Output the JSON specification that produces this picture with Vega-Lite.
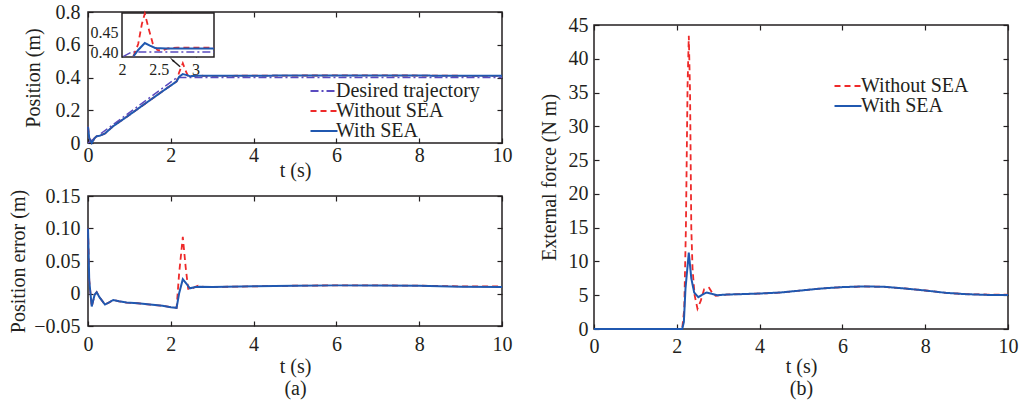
{
 "$schema": "https://vega.github.io/schema/vega-lite/v6.json",
 "background": "white",
 "padding": {"left": 7, "top": 1, "right": 5, "bottom": 3},
 "config": {
  "font": "Liberation Serif",
  "view": {"stroke": "#231f20", "strokeWidth": 1.5},
  "axis": {"labelFont": "Liberation Serif", "titleFont": "Liberation Serif", "labelFontSize": 20, "titleFontSize": 20, "titleFontWeight": "normal", "labelColor": "#231f20", "titleColor": "#231f20", "tickColor": "#231f20", "tickSize": -5, "tickWidth": 1.2, "domain": false, "grid": false, "labelFlush": false, "labelOverlap": false, "titleLineHeight": 22},
  "axisX": {"labelPadding": 12, "titlePadding": 2},
  "axisY": {"labelPadding": 13, "titlePadding": 9},
  "legend": {"labelFont": "Liberation Serif", "labelFontSize": 20, "labelColor": "#231f20", "symbolType": "M-2,0H2", "symbolSize": 182, "symbolStrokeWidth": 2, "rowPadding": 0, "padding": 0}
 },
 "datasets": {
  "pos": [
   {"t": 0, "v": 0, "s": "Desired trajectory"}, {"t": 2.15, "v": 0.4, "s": "Desired trajectory"}, {"t": 10, "v": 0.4, "s": "Desired trajectory"},
   {"t": 0, "v": 0.1, "s": "With SEA"}, {"t": 0.03, "v": 0.03, "s": "With SEA"}, {"t": 0.09, "v": 0.0, "s": "With SEA"}, {"t": 0.16, "v": 0.03, "s": "With SEA"}, {"t": 0.21, "v": 0.041, "s": "With SEA"}, {"t": 0.28, "v": 0.044, "s": "With SEA"}, {"t": 0.41, "v": 0.058, "s": "With SEA"}, {"t": 0.61, "v": 0.103, "s": "With SEA"}, {"t": 0.93, "v": 0.159, "s": "With SEA"}, {"t": 1.2, "v": 0.208, "s": "With SEA"}, {"t": 1.5, "v": 0.262, "s": "With SEA"}, {"t": 1.8, "v": 0.316, "s": "With SEA"}, {"t": 2.0, "v": 0.351, "s": "With SEA"}, {"t": 2.14, "v": 0.376, "s": "With SEA"}, {"t": 2.2, "v": 0.404, "s": "With SEA"}, {"t": 2.29, "v": 0.421, "s": "With SEA"}, {"t": 2.38, "v": 0.415, "s": "With SEA"}, {"t": 2.46, "v": 0.408, "s": "With SEA"}, {"t": 2.6, "v": 0.41, "s": "With SEA"}, {"t": 2.7, "v": 0.4105, "s": "With SEA"}, {"t": 3, "v": 0.41, "s": "With SEA"}, {"t": 4, "v": 0.411, "s": "With SEA"}, {"t": 5, "v": 0.412, "s": "With SEA"}, {"t": 6, "v": 0.4125, "s": "With SEA"}, {"t": 7, "v": 0.4125, "s": "With SEA"}, {"t": 8, "v": 0.412, "s": "With SEA"}, {"t": 9, "v": 0.41, "s": "With SEA"}, {"t": 10, "v": 0.41, "s": "With SEA"},
   {"t": 0, "v": 0.1, "s": "Without SEA"}, {"t": 0.03, "v": 0.03, "s": "Without SEA"}, {"t": 0.09, "v": 0.0, "s": "Without SEA"}, {"t": 0.16, "v": 0.03, "s": "Without SEA"}, {"t": 0.21, "v": 0.041, "s": "Without SEA"}, {"t": 0.28, "v": 0.044, "s": "Without SEA"}, {"t": 0.41, "v": 0.058, "s": "Without SEA"}, {"t": 0.61, "v": 0.103, "s": "Without SEA"}, {"t": 0.93, "v": 0.159, "s": "Without SEA"}, {"t": 1.2, "v": 0.208, "s": "Without SEA"}, {"t": 1.5, "v": 0.262, "s": "Without SEA"}, {"t": 1.8, "v": 0.316, "s": "Without SEA"}, {"t": 2.0, "v": 0.351, "s": "Without SEA"}, {"t": 2.14, "v": 0.376, "s": "Without SEA"}, {"t": 2.2, "v": 0.43, "s": "Without SEA"}, {"t": 2.29, "v": 0.487, "s": "Without SEA"}, {"t": 2.36, "v": 0.44, "s": "Without SEA"}, {"t": 2.42, "v": 0.407, "s": "Without SEA"}, {"t": 2.5, "v": 0.407, "s": "Without SEA"}, {"t": 2.58, "v": 0.41, "s": "Without SEA"}, {"t": 2.66, "v": 0.412, "s": "Without SEA"}, {"t": 2.8, "v": 0.41, "s": "Without SEA"}, {"t": 3, "v": 0.41, "s": "Without SEA"}, {"t": 4, "v": 0.411, "s": "Without SEA"}, {"t": 5, "v": 0.412, "s": "Without SEA"}, {"t": 6, "v": 0.4125, "s": "Without SEA"}, {"t": 7, "v": 0.4125, "s": "Without SEA"}, {"t": 8, "v": 0.412, "s": "Without SEA"}, {"t": 9, "v": 0.4105, "s": "Without SEA"}, {"t": 10, "v": 0.4105, "s": "Without SEA"}
  ],
  "inset": [
   {"t": 2.02, "v": 0.389, "s": "Desired trajectory"}, {"t": 2.13, "v": 0.4, "s": "Desired trajectory"}, {"t": 3.25, "v": 0.4, "s": "Desired trajectory"},
   {"t": 2.155, "v": 0.389, "s": "Without SEA"}, {"t": 2.22, "v": 0.42, "s": "Without SEA"}, {"t": 2.27, "v": 0.47, "s": "Without SEA"}, {"t": 2.31, "v": 0.496, "s": "Without SEA"}, {"t": 2.36, "v": 0.46, "s": "Without SEA"}, {"t": 2.42, "v": 0.42, "s": "Without SEA"}, {"t": 2.48, "v": 0.405, "s": "Without SEA"}, {"t": 2.54, "v": 0.403, "s": "Without SEA"}, {"t": 2.62, "v": 0.409, "s": "Without SEA"}, {"t": 2.75, "v": 0.411, "s": "Without SEA"}, {"t": 3.25, "v": 0.411, "s": "Without SEA"},
   {"t": 2.155, "v": 0.389, "s": "With SEA"}, {"t": 2.22, "v": 0.405, "s": "With SEA"}, {"t": 2.31, "v": 0.4225, "s": "With SEA"}, {"t": 2.38, "v": 0.416, "s": "With SEA"}, {"t": 2.45, "v": 0.41, "s": "With SEA"}, {"t": 2.6, "v": 0.409, "s": "With SEA"}, {"t": 3.25, "v": 0.409, "s": "With SEA"}
  ],
  "insetbox": [{"x0": 2, "x1": 3.25, "y0": 0.3875, "y1": 0.4975}],
  "pointer": [{"t": 2.79, "v": 0.363, "t2": 2.685, "v2": 0.38}],
  "err": [
   {"t": 0, "v": 0.1, "s": "With SEA"}, {"t": 0.03, "v": 0.02, "s": "With SEA"}, {"t": 0.09, "v": -0.02, "s": "With SEA"}, {"t": 0.16, "v": -0.002, "s": "With SEA"}, {"t": 0.21, "v": 0.002, "s": "With SEA"}, {"t": 0.28, "v": -0.006, "s": "With SEA"}, {"t": 0.41, "v": -0.017, "s": "With SEA"}, {"t": 0.5, "v": -0.014, "s": "With SEA"}, {"t": 0.61, "v": -0.01, "s": "With SEA"}, {"t": 0.75, "v": -0.012, "s": "With SEA"}, {"t": 0.93, "v": -0.014, "s": "With SEA"}, {"t": 1.2, "v": -0.015, "s": "With SEA"}, {"t": 1.5, "v": -0.017, "s": "With SEA"}, {"t": 1.8, "v": -0.019, "s": "With SEA"}, {"t": 2.0, "v": -0.021, "s": "With SEA"}, {"t": 2.14, "v": -0.022, "s": "With SEA"}, {"t": 2.2, "v": 0.0, "s": "With SEA"}, {"t": 2.29, "v": 0.022, "s": "With SEA"}, {"t": 2.38, "v": 0.015, "s": "With SEA"}, {"t": 2.46, "v": 0.008, "s": "With SEA"}, {"t": 2.6, "v": 0.01, "s": "With SEA"}, {"t": 2.7, "v": 0.0105, "s": "With SEA"}, {"t": 3, "v": 0.01, "s": "With SEA"}, {"t": 4, "v": 0.011, "s": "With SEA"}, {"t": 5, "v": 0.012, "s": "With SEA"}, {"t": 6, "v": 0.0125, "s": "With SEA"}, {"t": 7, "v": 0.0125, "s": "With SEA"}, {"t": 8, "v": 0.012, "s": "With SEA"}, {"t": 9, "v": 0.0105, "s": "With SEA"}, {"t": 10, "v": 0.01, "s": "With SEA"},
   {"t": 0, "v": 0.1, "s": "Without SEA"}, {"t": 0.03, "v": 0.02, "s": "Without SEA"}, {"t": 0.09, "v": -0.02, "s": "Without SEA"}, {"t": 0.16, "v": -0.002, "s": "Without SEA"}, {"t": 0.21, "v": 0.002, "s": "Without SEA"}, {"t": 0.28, "v": -0.006, "s": "Without SEA"}, {"t": 0.41, "v": -0.017, "s": "Without SEA"}, {"t": 0.5, "v": -0.014, "s": "Without SEA"}, {"t": 0.61, "v": -0.01, "s": "Without SEA"}, {"t": 0.75, "v": -0.012, "s": "Without SEA"}, {"t": 0.93, "v": -0.014, "s": "Without SEA"}, {"t": 1.2, "v": -0.015, "s": "Without SEA"}, {"t": 1.5, "v": -0.017, "s": "Without SEA"}, {"t": 1.8, "v": -0.019, "s": "Without SEA"}, {"t": 2.0, "v": -0.021, "s": "Without SEA"}, {"t": 2.14, "v": -0.022, "s": "Without SEA"}, {"t": 2.2, "v": 0.03, "s": "Without SEA"}, {"t": 2.29, "v": 0.087, "s": "Without SEA"}, {"t": 2.36, "v": 0.04, "s": "Without SEA"}, {"t": 2.42, "v": 0.007, "s": "Without SEA"}, {"t": 2.5, "v": 0.007, "s": "Without SEA"}, {"t": 2.58, "v": 0.01, "s": "Without SEA"}, {"t": 2.66, "v": 0.012, "s": "Without SEA"}, {"t": 2.8, "v": 0.01, "s": "Without SEA"}, {"t": 3, "v": 0.01, "s": "Without SEA"}, {"t": 4, "v": 0.011, "s": "Without SEA"}, {"t": 5, "v": 0.012, "s": "Without SEA"}, {"t": 6, "v": 0.0125, "s": "Without SEA"}, {"t": 7, "v": 0.0125, "s": "Without SEA"}, {"t": 8, "v": 0.012, "s": "Without SEA"}, {"t": 9, "v": 0.011, "s": "Without SEA"}, {"t": 10, "v": 0.011, "s": "Without SEA"}
  ],
  "force": [
   {"t": 0, "v": 0, "s": "With SEA"}, {"t": 2.13, "v": 0, "s": "With SEA"}, {"t": 2.17, "v": 1, "s": "With SEA"}, {"t": 2.21, "v": 6, "s": "With SEA"}, {"t": 2.29, "v": 11.3, "s": "With SEA"}, {"t": 2.35, "v": 7.5, "s": "With SEA"}, {"t": 2.42, "v": 5.4, "s": "With SEA"}, {"t": 2.52, "v": 4.7, "s": "With SEA"}, {"t": 2.62, "v": 5.1, "s": "With SEA"}, {"t": 2.72, "v": 5.4, "s": "With SEA"}, {"t": 2.85, "v": 5.2, "s": "With SEA"}, {"t": 2.98, "v": 5.0, "s": "With SEA"}, {"t": 3.2, "v": 5.1, "s": "With SEA"}, {"t": 3.5, "v": 5.15, "s": "With SEA"}, {"t": 4, "v": 5.25, "s": "With SEA"}, {"t": 4.5, "v": 5.4, "s": "With SEA"}, {"t": 5, "v": 5.7, "s": "With SEA"}, {"t": 5.5, "v": 6.0, "s": "With SEA"}, {"t": 6, "v": 6.2, "s": "With SEA"}, {"t": 6.5, "v": 6.3, "s": "With SEA"}, {"t": 7, "v": 6.25, "s": "With SEA"}, {"t": 7.5, "v": 6.0, "s": "With SEA"}, {"t": 8, "v": 5.7, "s": "With SEA"}, {"t": 8.5, "v": 5.35, "s": "With SEA"}, {"t": 9, "v": 5.15, "s": "With SEA"}, {"t": 9.5, "v": 5.05, "s": "With SEA"}, {"t": 10, "v": 5.05, "s": "With SEA"},
   {"t": 0, "v": 0, "s": "Without SEA"}, {"t": 2.13, "v": 0, "s": "Without SEA"}, {"t": 2.18, "v": 3, "s": "Without SEA"}, {"t": 2.22, "v": 15, "s": "Without SEA"}, {"t": 2.26, "v": 36, "s": "Without SEA"}, {"t": 2.29, "v": 43.4, "s": "Without SEA"}, {"t": 2.32, "v": 35, "s": "Without SEA"}, {"t": 2.35, "v": 15, "s": "Without SEA"}, {"t": 2.38, "v": 9, "s": "Without SEA"}, {"t": 2.43, "v": 5, "s": "Without SEA"}, {"t": 2.5, "v": 3.0, "s": "Without SEA"}, {"t": 2.58, "v": 4.2, "s": "Without SEA"}, {"t": 2.66, "v": 5.9, "s": "Without SEA"}, {"t": 2.78, "v": 6.1, "s": "Without SEA"}, {"t": 2.87, "v": 5.2, "s": "Without SEA"}, {"t": 2.94, "v": 4.9, "s": "Without SEA"}, {"t": 3.05, "v": 5.0, "s": "Without SEA"}, {"t": 3.2, "v": 5.1, "s": "Without SEA"}, {"t": 3.5, "v": 5.15, "s": "Without SEA"}, {"t": 4, "v": 5.25, "s": "Without SEA"}, {"t": 4.5, "v": 5.4, "s": "Without SEA"}, {"t": 5, "v": 5.7, "s": "Without SEA"}, {"t": 5.5, "v": 6.0, "s": "Without SEA"}, {"t": 6, "v": 6.2, "s": "Without SEA"}, {"t": 6.5, "v": 6.3, "s": "Without SEA"}, {"t": 7, "v": 6.25, "s": "Without SEA"}, {"t": 7.5, "v": 6.0, "s": "Without SEA"}, {"t": 8, "v": 5.7, "s": "Without SEA"}, {"t": 8.5, "v": 5.35, "s": "Without SEA"}, {"t": 9, "v": 5.15, "s": "Without SEA"}, {"t": 9.5, "v": 5.1, "s": "Without SEA"}, {"t": 10, "v": 5.1, "s": "Without SEA"}
  ]
 },
 "spacing": 25,
 "resolve": {"scale": {"color": "independent", "strokeDash": "independent"}, "legend": {"color": "independent", "strokeDash": "independent"}},
 "hconcat": [
  {
   "bounds": "flush",
   "spacing": 53,
   "vconcat": [
    {
     "width": 414, "height": 131,
     "layer": [
      {
       "layer": [
        {
         "data": {"name": "pos"},
         "transform": [{"filter": "datum.s === 'Desired trajectory'"}],
         "mark": {"type": "line", "strokeWidth": 1.5},
         "encoding": {
          "x": {"field": "t", "type": "quantitative", "scale": {"domain": [0, 10], "nice": false, "zero": false}, "axis": {"values": [0, 2, 4, 6, 8, 10], "title": "t (s)", "labelPadding": 7, "titlePadding": -5}},
          "y": {"field": "v", "type": "quantitative", "scale": {"domain": [0, 0.8], "nice": false}, "axis": {"values": [0, 0.2, 0.4, 0.6, 0.8], "labelExpr": "datum.value === 0 ? '0' : format(datum.value, '.1f')", "title": "Position (m)", "titlePadding": 12}},
          "color": {"field": "s", "type": "nominal", "scale": {"domain": ["Desired trajectory", "Without SEA", "With SEA"], "range": ["#5a4bbf", "#ee2a2a", "#2058b0"]}, "legend": {"orient": "none", "legendX": 226, "legendY": 69, "title": null, "labelOffset": 2}},
          "strokeDash": {"field": "s", "type": "nominal", "scale": {"domain": ["Desired trajectory", "Without SEA", "With SEA"], "range": [[8, 3, 2, 3], [6, 4], [1, 0]]}, "legend": {"orient": "none", "legendX": 226, "legendY": 69, "title": null, "labelOffset": 2}}
         }
        },
        {
         "data": {"name": "pos"},
         "transform": [{"filter": "datum.s === 'Without SEA'"}],
         "mark": {"type": "line", "strokeWidth": 1.8},
         "encoding": {
          "x": {"field": "t", "type": "quantitative", "axis": null},
          "y": {"field": "v", "type": "quantitative", "axis": null},
          "color": {"field": "s", "type": "nominal", "scale": {"domain": ["Desired trajectory", "Without SEA", "With SEA"], "range": ["#5a4bbf", "#ee2a2a", "#2058b0"]}, "legend": {"orient": "none", "legendX": 226, "legendY": 69, "title": null, "labelOffset": 2}},
          "strokeDash": {"field": "s", "type": "nominal", "scale": {"domain": ["Desired trajectory", "Without SEA", "With SEA"], "range": [[8, 3, 2, 3], [6, 4], [1, 0]]}, "legend": {"orient": "none", "legendX": 226, "legendY": 69, "title": null, "labelOffset": 2}}
         }
        },
        {
         "data": {"name": "pos"},
         "transform": [{"filter": "datum.s === 'With SEA'"}],
         "mark": {"type": "line", "strokeWidth": 2},
         "encoding": {
          "x": {"field": "t", "type": "quantitative", "axis": null},
          "y": {"field": "v", "type": "quantitative", "axis": null},
          "color": {"field": "s", "type": "nominal", "scale": {"domain": ["Desired trajectory", "Without SEA", "With SEA"], "range": ["#5a4bbf", "#ee2a2a", "#2058b0"]}, "legend": {"orient": "none", "legendX": 226, "legendY": 69, "title": null, "labelOffset": 2}},
          "strokeDash": {"field": "s", "type": "nominal", "scale": {"domain": ["Desired trajectory", "Without SEA", "With SEA"], "range": [[8, 3, 2, 3], [6, 4], [1, 0]]}, "legend": {"orient": "none", "legendX": 226, "legendY": 69, "title": null, "labelOffset": 2}}
         }
        },
        {
         "data": {"name": "pos"},
         "mark": {"type": "point", "opacity": 0},
         "encoding": {
          "x": {"field": "t", "type": "quantitative", "axis": {"orient": "top", "values": [0, 2, 4, 6, 8, 10], "labels": false, "title": null}},
          "y": {"field": "v", "type": "quantitative", "axis": {"orient": "right", "values": [0, 0.2, 0.4, 0.6, 0.8], "labels": false, "title": null}}
         }
        }
       ],
       "resolve": {"axis": {"x": "independent", "y": "independent"}}
      },
      {
       "layer": [
        {
         "data": {"name": "insetbox"},
         "mark": {"type": "rect", "fill": "white", "stroke": "#231f20", "strokeWidth": 1.5},
         "encoding": {
          "x": {"field": "x0", "type": "quantitative", "scale": {"domain": [2, 3.25], "range": [34, 126], "nice": false, "zero": false}, "axis": {"orient": "bottom", "offset": -86, "values": [2, 2.5, 3], "format": "~g", "title": null, "labelFontSize": 16, "tickSize": -4, "labelPadding": 8}},
          "x2": {"field": "x1"},
          "y": {"field": "y0", "type": "quantitative", "scale": {"domain": [0.3875, 0.4975], "range": [45, 1], "nice": false, "zero": false}, "axis": {"orient": "left", "offset": -34, "values": [0.4, 0.45], "format": ".2f", "title": null, "labelFontSize": 16, "tickSize": -4, "labelPadding": 8}},
          "y2": {"field": "y1"}
         }
        },
        {
         "data": {"name": "inset"},
         "transform": [{"filter": "datum.s === 'Desired trajectory'"}],
         "mark": {"type": "line", "color": "#5a4bbf", "strokeDash": [8, 3, 2, 3], "strokeWidth": 1.5},
         "encoding": {"x": {"field": "t", "type": "quantitative"}, "y": {"field": "v", "type": "quantitative"}}
        },
        {
         "data": {"name": "inset"},
         "transform": [{"filter": "datum.s === 'Without SEA'"}],
         "mark": {"type": "line", "color": "#ee2a2a", "strokeDash": [6, 4], "strokeWidth": 1.8},
         "encoding": {"x": {"field": "t", "type": "quantitative"}, "y": {"field": "v", "type": "quantitative"}}
        },
        {
         "data": {"name": "inset"},
         "transform": [{"filter": "datum.s === 'With SEA'"}],
         "mark": {"type": "line", "color": "#2058b0", "strokeWidth": 2},
         "encoding": {"x": {"field": "t", "type": "quantitative"}, "y": {"field": "v", "type": "quantitative"}}
        },
        {
         "data": {"name": "pointer"},
         "mark": {"type": "rule", "color": "#231f20", "strokeWidth": 1.5},
         "encoding": {"x": {"field": "t", "type": "quantitative"}, "y": {"field": "v", "type": "quantitative"}, "x2": {"field": "t2"}, "y2": {"field": "v2"}}
        },
        {
         "data": {"name": "pointer"},
         "mark": {"type": "point", "shape": "wedge", "filled": true, "color": "#231f20", "size": 60, "angle": -45, "opacity": 1},
         "encoding": {"x": {"field": "t2", "type": "quantitative"}, "y": {"field": "v2", "type": "quantitative"}}
        }
       ]
      }
     ],
     "resolve": {"scale": {"x": "independent", "y": "independent"}}
    },
    {
     "width": 414, "height": 130,
     "layer": [
      {
       "data": {"name": "err"},
       "transform": [{"filter": "datum.s === 'Without SEA'"}],
       "mark": {"type": "line", "color": "#ee2a2a", "strokeDash": [6, 4], "strokeWidth": 1.8},
       "encoding": {
        "x": {"field": "t", "type": "quantitative", "scale": {"domain": [0, 10], "nice": false, "zero": false}, "axis": {"values": [0, 2, 4, 6, 8, 10], "title": ["t (s)", "(a)"], "labelPadding": 13}},
        "y": {"field": "v", "type": "quantitative", "scale": {"domain": [-0.05, 0.15], "nice": false, "zero": false}, "axis": {"values": [-0.05, 0, 0.05, 0.1, 0.15], "labelExpr": "datum.value === 0 ? '0' : format(datum.value, '.2f')", "title": "Position error (m)", "titlePadding": 5}}
       }
      },
      {
       "data": {"name": "err"},
       "transform": [{"filter": "datum.s === 'With SEA'"}],
       "mark": {"type": "line", "color": "#2058b0", "strokeWidth": 2},
       "encoding": {
        "x": {"field": "t", "type": "quantitative", "axis": null},
        "y": {"field": "v", "type": "quantitative", "axis": null}
       }
      },
      {
       "data": {"name": "err"},
       "mark": {"type": "point", "opacity": 0},
       "encoding": {
        "x": {"field": "t", "type": "quantitative", "axis": {"orient": "top", "values": [0, 2, 4, 6, 8, 10], "labels": false, "title": null}},
        "y": {"field": "v", "type": "quantitative", "axis": {"orient": "right", "values": [-0.05, 0, 0.05, 0.1, 0.15], "labels": false, "title": null}}
       }
      }
     ],
     "resolve": {"axis": {"x": "independent", "y": "independent"}}
    }
   ]
  },
  {
   "bounds": "flush",
   "spacing": 12,
   "vconcat": [
    {"width": 414, "height": 1, "data": {"values": [{"a": 1}]}, "mark": {"type": "point", "opacity": 0}, "view": {"stroke": null}},
    {
     "width": 414, "height": 304,
     "layer": [
      {
       "data": {"name": "force"},
       "transform": [{"filter": "datum.s === 'Without SEA'"}],
       "mark": {"type": "line", "strokeWidth": 1.8},
       "encoding": {
        "x": {"field": "t", "type": "quantitative", "scale": {"domain": [0, 10], "nice": false, "zero": false}, "axis": {"values": [0, 2, 4, 6, 8, 10], "title": ["t (s)", "(b)"], "titlePadding": 0}},
        "y": {"field": "v", "type": "quantitative", "scale": {"domain": [0, 45], "nice": false}, "axis": {"values": [0, 5, 10, 15, 20, 25, 30, 35, 40, 45], "title": "External force (N m)", "labelPadding": 11}},
        "color": {"field": "s", "type": "nominal", "scale": {"domain": ["Without SEA", "With SEA"], "range": ["#ee2a2a", "#2058b0"]}, "legend": {"orient": "none", "legendX": 244, "legendY": 64, "title": null, "labelOffset": 3}},
        "strokeDash": {"field": "s", "type": "nominal", "scale": {"domain": ["Without SEA", "With SEA"], "range": [[6, 4], [1, 0]]}, "legend": {"orient": "none", "legendX": 244, "legendY": 64, "title": null, "labelOffset": 3}}
       }
      },
      {
       "data": {"name": "force"},
       "transform": [{"filter": "datum.s === 'With SEA'"}],
       "mark": {"type": "line", "strokeWidth": 2},
       "encoding": {
        "x": {"field": "t", "type": "quantitative", "axis": null},
        "y": {"field": "v", "type": "quantitative", "axis": null},
        "color": {"field": "s", "type": "nominal", "scale": {"domain": ["Without SEA", "With SEA"], "range": ["#ee2a2a", "#2058b0"]}, "legend": {"orient": "none", "legendX": 244, "legendY": 64, "title": null, "labelOffset": 3}},
        "strokeDash": {"field": "s", "type": "nominal", "scale": {"domain": ["Without SEA", "With SEA"], "range": [[6, 4], [1, 0]]}, "legend": {"orient": "none", "legendX": 244, "legendY": 64, "title": null, "labelOffset": 3}}
       }
      },
      {
       "data": {"name": "force"},
       "mark": {"type": "point", "opacity": 0},
       "encoding": {
        "x": {"field": "t", "type": "quantitative", "axis": {"orient": "top", "values": [0, 2, 4, 6, 8, 10], "labels": false, "title": null}},
        "y": {"field": "v", "type": "quantitative", "axis": {"orient": "right", "values": [0, 5, 10, 15, 20, 25, 30, 35, 40, 45], "labels": false, "title": null}}
       }
      }
     ],
     "resolve": {"axis": {"x": "independent", "y": "independent"}}
    }
   ]
  }
 ]
}
